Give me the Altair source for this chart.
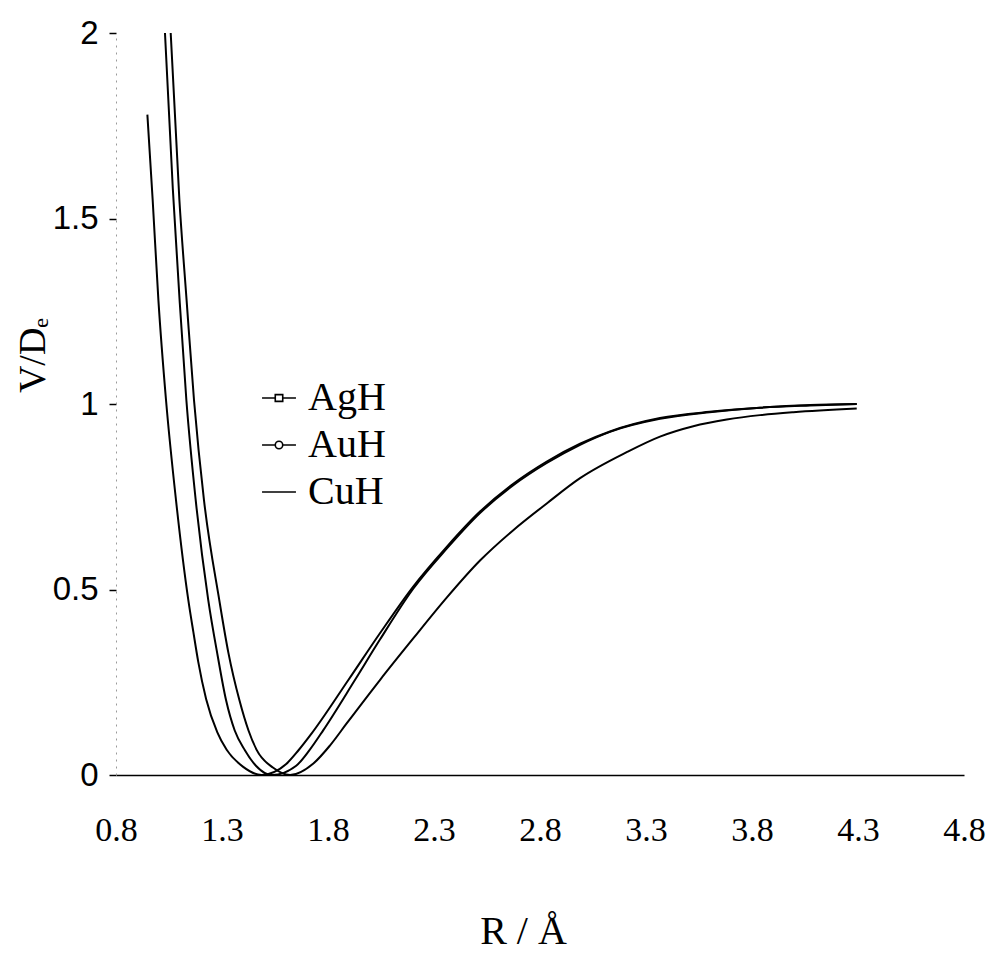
import altair as alt
import pandas as pd

# Values
series_names = ["AgH", "AuH", "CuH"]

cuh_r = [0.948, 0.973, 1.000, 1.036, 1.083, 1.141, 1.165, 1.188, 1.225, 1.278, 1.322, 1.400, 1.487,
         1.600, 1.660, 1.723, 1.896, 2.045, 2.202, 2.360, 2.517, 2.674, 2.832, 2.989, 3.130, 3.366,
         3.600, 3.838, 4.074, 4.294]
cuh_v = [1.78, 1.55, 1.28, 1.01, 0.741, 0.472, 0.385, 0.305, 0.205, 0.115, 0.068, 0.022, 0.000,
         0.028, 0.066, 0.112, 0.256, 0.382, 0.508, 0.615, 0.710, 0.785, 0.845, 0.893, 0.926, 0.962,
         0.979, 0.990, 0.997, 1.000]

auh_r = [1.031, 1.068, 1.100, 1.132, 1.176, 1.235, 1.280, 1.319, 1.360, 1.408, 1.460, 1.536, 1.650,
         1.710, 1.778, 1.927, 2.045, 2.202, 2.360, 2.517, 2.674, 2.832, 2.989, 3.130, 3.366, 3.600,
         3.838, 4.074, 4.294]
auh_v = [2.00, 1.58, 1.28, 1.01, 0.741, 0.472, 0.320, 0.202, 0.120, 0.067, 0.025, 0.000, 0.025,
         0.065, 0.121, 0.256, 0.365, 0.502, 0.610, 0.706, 0.781, 0.841, 0.890, 0.925, 0.960, 0.978,
         0.990, 0.996, 1.000]

agh_r = [1.058, 1.099, 1.133, 1.168, 1.215, 1.287, 1.330, 1.382, 1.425, 1.464, 1.540, 1.621, 1.731,
         1.810, 1.888, 2.045, 2.202, 2.360, 2.517, 2.674, 2.832, 2.989, 3.209, 3.366, 3.523, 3.681,
         3.838, 3.995, 4.294]
agh_v = [2.00, 1.55, 1.28, 1.01, 0.741, 0.472, 0.330, 0.202, 0.120, 0.067, 0.020, 0.000, 0.031,
         0.080, 0.139, 0.256, 0.368, 0.478, 0.578, 0.660, 0.732, 0.800, 0.870, 0.912, 0.940, 0.958,
         0.970, 0.978, 0.988]

x_ticks = [0.8, 1.3, 1.8, 2.3, 2.8, 3.3, 3.8, 4.3, 4.8]
y_ticks = [0, 0.5, 1, 1.5, 2]

# legend symbols: line with open square, line with open circle, plain line
legend_paths = [
    "M-1,0H-0.22M0.22,0H1M-0.22,-0.2H0.22V0.2H-0.22Z",
    "M-1,0H-0.22M0.22,0H1M-0.22,0A0.22,0.22,0,1,0,0.22,0A0.22,0.22,0,1,0,-0.22,0Z",
    "M-1,0H1",
]

rows = []
for name, rs, vs in (("AgH", agh_r, agh_v), ("AuH", auh_r, auh_v), ("CuH", cuh_r, cuh_v)):
    for r, v in zip(rs, vs):
        rows.append({"molecule": name, "R": r, "V": v})
df = pd.DataFrame(rows)

serif = "Liberation Serif"
sans = "Liberation Sans"

x_enc = alt.X(
    "R:Q",
    scale=alt.Scale(domain=[0.8, 4.8], nice=False, zero=False),
    axis=alt.Axis(
        values=x_ticks, format=".1f", title="R / Å",
        labelFont=serif, labelFontSize=34, labelColor="black", labelPadding=38,
        ticks=False, grid=False,
        domainColor="black", domainWidth=1.5,
        titleFont=serif, titleFontSize=40, titleFontWeight="normal", titleColor="black",
        titleX=407, titleY=168, titleBaseline="alphabetic", titleAlign="center",
        labelFlush=False, labelOverlap=False,
    ),
)
y_enc = alt.Y(
    "V:Q",
    scale=alt.Scale(domain=[0, 2], nice=False),
    axis=alt.Axis(
        values=y_ticks, format="~g", title="V/Dₑ",
        labelFont=sans, labelFontSize=33, labelColor="black", labelPadding=11,
        tickSize=7, tickWidth=1.5, tickColor="black",
        domainColor="#9a9a9a", domainWidth=1, domainDash=[2, 5],
        grid=False,
        titleFont=serif, titleFontSize=38, titleFontWeight="normal", titleColor="black",
        titleX=-83, titleY=322, titleAngle=270, titleBaseline="middle", titleAlign="center",
        labelFlush=False, labelOverlap=False,
    ),
)

lines = alt.Chart(df).mark_line(
    interpolate="monotone", color="black", strokeWidth=2, clip=True
).encode(x=x_enc, y=y_enc, detail="molecule:N")

legend_layer = alt.Chart(df).mark_point(
    filled=False, opacity=0, color="black"
).encode(
    x="R:Q",
    y="V:Q",
    shape=alt.Shape(
        "molecule:N",
        scale=alt.Scale(domain=series_names, range=legend_paths),
        legend=alt.Legend(
            title=None, orient="none", legendX=143, legendY=345,
            labelFont=serif, labelFontSize=40, labelColor="black", labelOffset=9,
            symbolSize=1150, symbolStrokeWidth=1.6, symbolStrokeColor="black",
            symbolFillColor="transparent", symbolOpacity=1,
            rowPadding=7, padding=0,
        ),
    ),
)

chart = alt.layer(lines, legend_layer).properties(
    width=848,
    height=742,
    autosize=alt.AutoSizeParams(type="none"),
    padding={"left": 108, "top": 25, "right": 23, "bottom": 178},
    background="white",
).configure_view(stroke=None)

chart.save("out.html", embed_options={"renderer": "svg", "actions": False})
